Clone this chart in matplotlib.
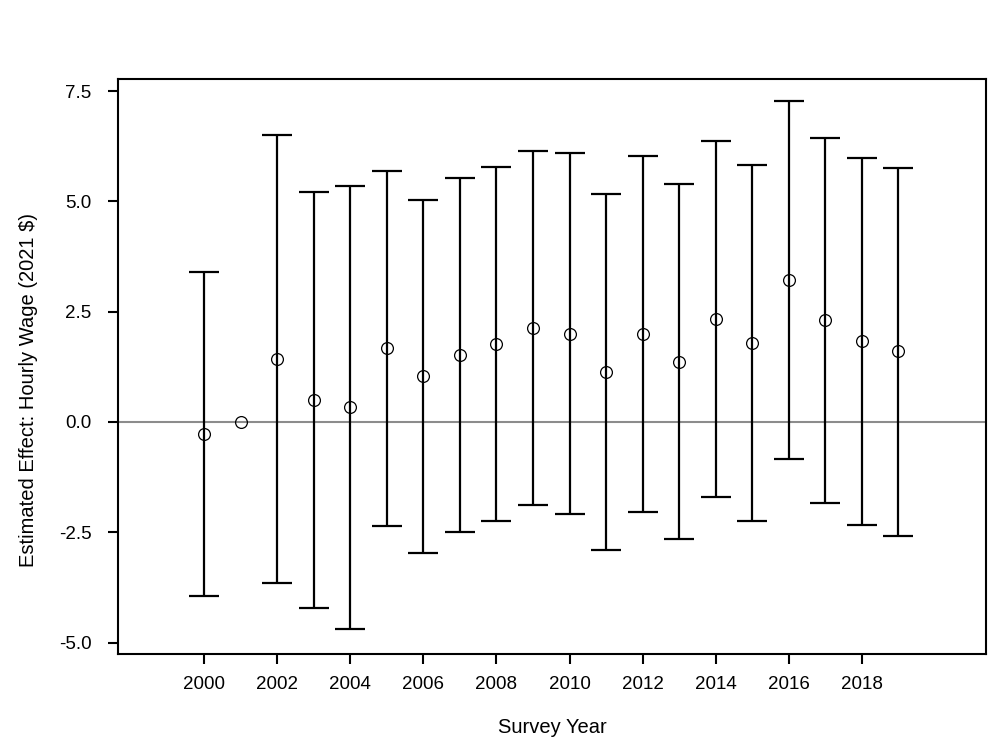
import numpy as np
import matplotlib
matplotlib.use("Agg")
import matplotlib.pyplot as plt

plt.rcParams['font.family'] = ['Liberation Sans', 'DejaVu Sans']
plt.rcParams['axes.unicode_minus'] = False

# estimates
years = [2000, 2001, 2002, 2003, 2004, 2005, 2006, 2007, 2008, 2009,
         2010, 2011, 2012, 2013, 2014, 2015, 2016, 2017, 2018, 2019]
estimate = [-0.28, 0.0, 1.42, 0.50, 0.33, 1.67, 1.04, 1.51, 1.77, 2.12,
            1.99, 1.13, 1.99, 1.35, 2.33, 1.78, 3.21, 2.31, 1.83, 1.60]
upper = [3.39, np.nan, 6.50, 5.21, 5.36, 5.69, 5.03, 5.53, 5.77, 6.15,
         6.10, 5.17, 6.03, 5.39, 6.37, 5.82, 7.27, 6.44, 5.99, 5.76]
lower = [-3.95, np.nan, -3.66, -4.22, -4.70, -2.36, -2.98, -2.50, -2.25, -1.89,
         -2.09, -2.90, -2.05, -2.66, -1.69, -2.24, -0.85, -1.84, -2.34, -2.59]
xticks = list(range(2000, 2019, 2))
yticks = [-5.0, -2.5, 0.0, 2.5, 5.0, 7.5]

est = np.array(estimate)
err = np.vstack([est - np.array(lower), np.array(upper) - est])
has_ci = ~np.isnan(err[0])

fig = plt.figure(figsize=(10, 7.5), dpi=100)
ax = fig.add_axes([0.118, 0.128, 0.868, 0.767])

ax.axhline(0, color='#8c8c8c', lw=1.5, zorder=1)

yrs = np.array(years)
ax.errorbar(yrs[has_ci], est[has_ci], yerr=err[:, has_ci], fmt='none',
            ecolor='black', elinewidth=1.6, capsize=10.5, capthick=1.6, zorder=2)
ax.plot(yrs, est, 'o', mfc='none', mec='black', ms=8.5, mew=0.9, zorder=3)

ax.set_xlim(1997.64, 2021.4)
ax.set_ylim(-5.26, 7.78)
ax.set_xticks(xticks)
ax.set_xticklabels([str(y) for y in xticks])
ax.set_yticks(yticks)
ax.set_yticklabels([f"{v:.1f}" for v in yticks])
ax.tick_params(direction='out', length=7, width=1.5, labelsize=13.5)
ax.tick_params(axis='x', pad=9)
ax.tick_params(axis='y', pad=12)

for s in ax.spines.values():
    s.set_linewidth(1.5)

ax.set_xlabel('Survey Year', fontsize=14.5, labelpad=18)
ax.set_ylabel('Estimated Effect: Hourly Wage (2021 $)', fontsize=14.5)
ax.yaxis.set_label_coords(-0.092, 0.459)

fig.savefig('out.png', dpi=100)
